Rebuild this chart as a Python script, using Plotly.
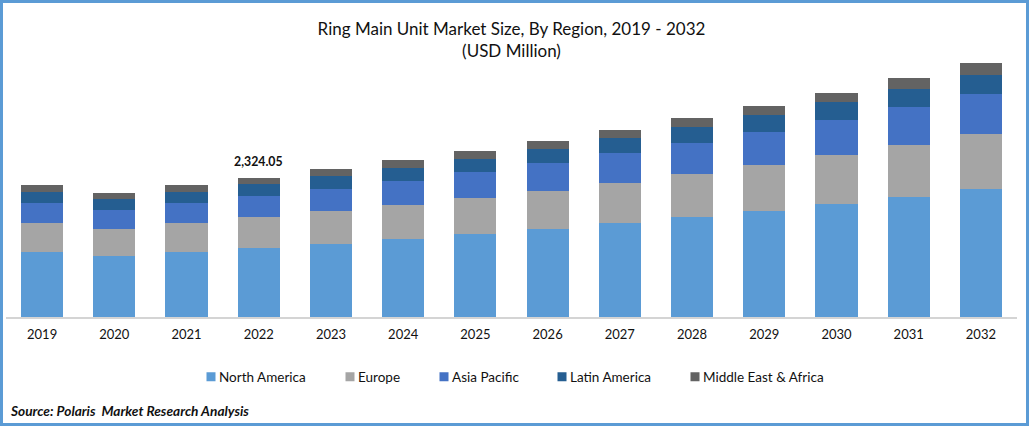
import plotly.graph_objects as go

years = [str(y) for y in range(2019, 2033)]
north_america = [1087, 1020, 1087, 1154, 1221, 1304, 1388, 1471, 1572, 1672, 1772, 1889, 2006, 2140]
europe = [485, 451, 485, 518, 552, 568, 602, 635, 669, 719, 769, 819, 869, 920]
asia_pacific = [334, 318, 334, 351, 368, 401, 435, 468, 502, 518, 552, 585, 635, 669]
latin_america = [184, 184, 184, 201, 217, 217, 217, 234, 251, 268, 284, 301, 301, 318]
mea = [117, 100, 117, 100, 117, 134, 134, 134, 134, 150, 150, 150, 184, 201]
series = [
    ("North America", north_america, "#5B9BD5"),
    ("Europe", europe, "#A5A5A5"),
    ("Asia Pacific", asia_pacific, "#4472C4"),
    ("Latin America", latin_america, "#255E91"),
    ("Middle East & Africa", mea, "#636363"),
]
legend_x = [191, 330, 424, 542, 675]

W, H = 1029, 426
L, R, T, B = 6, 12, 50, 109
FONT = "Lato"
TXT = "#111111"
pw = W - L - R
ph = H - T - B
px = lambda v: (v - L) / pw
py = lambda v: (H - B - v) / ph

fig = go.Figure()
layout_legends = {}
for i, (name, vals, color) in enumerate(series):
    key = "legend" if i == 0 else f"legend{i+1}"
    fig.add_bar(x=years, y=vals, name=name, marker_color=color, marker_line_width=0,
                legend=key, showlegend=True)
    layout_legends[key] = dict(
        x=px(legend_x[i]), xanchor="left", y=py(377), yanchor="middle",
        orientation="h", bgcolor="rgba(0,0,0,0)", borderwidth=0,
        font=dict(family=FONT, size=13.5, color=TXT), itemclick=False, itemdoubleclick=False,
    )

idx_2022 = years.index("2022")
total_2022 = sum(s[1][idx_2022] for s in series)
fig.add_annotation(x=idx_2022, y=total_2022, yanchor="bottom", yshift=7, showarrow=False,
                   text="<b>2,324.05</b>", font=dict(family=FONT, size=12.3, color=TXT))
fig.add_annotation(xref="paper", yref="paper", x=px(8), y=py(410), xanchor="left", yanchor="middle",
                   showarrow=False, text="<b><i>Source: Polaris  Market Research Analysis</i></b>",
                   font=dict(family=FONT, size=13.7, color=TXT))
fig.add_shape(type="rect", xref="paper", yref="paper", x0=px(1.5), x1=px(1027.5), y0=py(424.5), y1=py(1.5),
              line=dict(color="#5B9BD5", width=3), fillcolor="rgba(0,0,0,0)")

fig.update_layout(
    width=W, height=H, margin=dict(l=L, r=R, t=T, b=B, autoexpand=False),
    paper_bgcolor="white", plot_bgcolor="white", barmode="stack", bargap=0.417,
    showlegend=True,
    font=dict(family=FONT, color=TXT, size=13),
    title=dict(text="Ring Main Unit Market Size, By Region, 2019 - 2032<br>(USD Million)",
               x=px(511.5), xref="paper", xanchor="center", y=1 - 35 / H, yanchor="middle",
               font=dict(family=FONT, size=17, color=TXT)),
    xaxis=dict(type="category", range=[-0.5, 13.5], showgrid=False, showline=True,
               linecolor="#D4D4D4", linewidth=1.5,
               ticks="", ticklabelstandoff=5, tickfont=dict(family=FONT, size=13, color=TXT)),
    yaxis=dict(range=[0, 4464], visible=False, showgrid=False),
    **layout_legends,
)
post = """
document.body.style.margin='0';
var st=document.createElement('style');
st.textContent='.legendtext,.legend2text,.legend3text,.legend4text,.legend5text{transform:translateX(-12px);}';
document.head.appendChild(st);
function tweak(){
  document.querySelectorAll('.legendpoints path').forEach(function(p){p.setAttribute('d','M4.5,4.5H-4.5V-4.5H4.5Z');});
}
tweak(); setTimeout(tweak,100);
"""
fig.write_html("out.html", post_script=post, config=dict(displayModeBar=False))
